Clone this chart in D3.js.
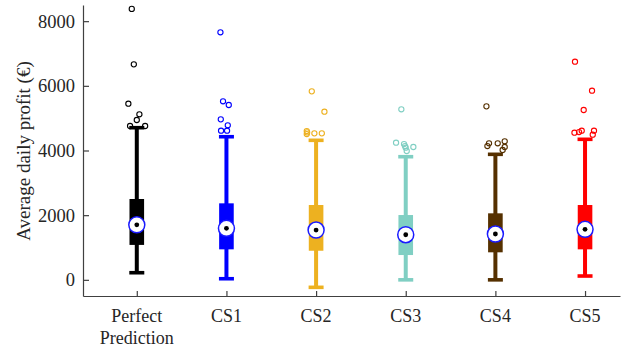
<!DOCTYPE html>
<html>
<head>
<meta charset="utf-8">
<script src="https://cdn.jsdelivr.net/npm/d3@7"></script>
<style>
  html, body { margin: 0; padding: 0; background: #fff; }
  svg { display: block; }
  text { font-family: "Liberation Serif", "Times New Roman", serif; fill: #262626; }
</style>
</head>
<body>
<svg id="chart" width="627" height="351"></svg>
<script>
// Box-plot summaries of average daily profit (EUR) per strategy
const categories = ["Perfect Prediction", "CS1", "CS2", "CS3", "CS4", "CS5"];
const whiskerLow  = [220,   34,  -232,    0,    0,  118];
const q1          = [1080,  943,  900,  767,  851,  943];
const median      = [1700, 1593, 1540, 1395, 1417, 1562];
const q3          = [2500, 2366, 2314, 2004, 2057, 2314];
const whiskerHigh = [4705, 4426, 4315, 3808, 3882, 4346];

// Outliers per strategy: [value, horizontal jitter in category units]
const outliers = [
  [[8380, -0.056], [6665, -0.033], [5447, -0.094], [5119, 0.029], [4943, 0], [4757, -0.075], [4757, 0.093]],
  [[7656, -0.067], [5521, -0.038], [5407, 0.026], [4964, -0.063], [4779, 0.015], [4612, -0.06], [4612, 0.007]],
  [[5830, -0.048], [5200, 0.093], [4602, -0.104], [4560, -0.1], [4509, -0.104], [4530, -0.019], [4530, 0.064]],
  [[5274, -0.049], [4241, -0.108], [4200, -0.019], [4138, -0.008], [4086, 0], [3984, 0.011], [4108, 0.085]],
  [[5366, -0.1], [4222, -0.071], [4138, -0.089], [4222, 0.026], [4284, 0.104], [4108, 0.104], [4015, 0.081]],
  [[6746, -0.112], [5850, 0.078], [5252, -0.015], [4550, -0.118], [4571, -0.067], [4612, -0.037], [4612, 0.1], [4488, 0.086]]
];

const yTicks = [0, 2000, 4000, 6000, 8000];
const colors = ["#000000", "#0000ff", "#edb120", "#80cfc3", "#553000", "#ff0000"];

const serif = "Liberation Serif, Times New Roman, serif";
const svg = d3.select("#chart");

const x = d3.scaleLinear().domain([-0.6, 5.39]).range([83, 620]);
const y = d3.scaleLinear().domain([-500, 8500]).range([296, 5]);

// Axes (ticks point inward)
const yAxis = svg.append("g")
  .attr("transform", "translate(83,0)")
  .call(d3.axisLeft(y).tickValues(yTicks).tickSizeInner(-6).tickSizeOuter(0).tickPadding(8).tickFormat(d3.format("d")))
  .attr("font-family", serif)
  .attr("font-size", 18.5);

const xAxis = svg.append("g")
  .attr("transform", "translate(0,296)")
  .call(d3.axisBottom(x).tickValues(d3.range(categories.length)).tickSizeInner(-5).tickSizeOuter(0).tickFormat(""));

[yAxis, xAxis].forEach(g => {
  g.selectAll("path.domain").attr("stroke", "#404040").attr("stroke-width", 1.2);
  g.selectAll(".tick line").attr("stroke", "#404040").attr("stroke-width", 1.2);
});
yAxis.selectAll(".tick text")
  .attr("dy", null)
  .attr("dominant-baseline", "central")
  .attr("fill", "#262626");

// Category labels, split on spaces into stacked lines
const xl = svg.append("g").attr("font-family", serif);
categories.forEach((c, i) => {
  const t = xl.append("text")
    .attr("x", x(i))
    .attr("y", 321.5)
    .attr("text-anchor", "middle")
    .attr("font-size", 18);
  c.split(" ").forEach((w, k) => {
    t.append("tspan").attr("x", x(i)).attr("dy", k === 0 ? 0 : 22.7).text(w);
  });
});

// Y-axis title
svg.append("text")
  .attr("transform", `translate(23,${151}) rotate(-90)`)
  .attr("text-anchor", "middle")
  .attr("dominant-baseline", "central")
  .attr("font-family", serif)
  .attr("font-size", 19)
  .text("Average daily profit (€)");

// Boxes
const boxW = 14.6, capW = 15, whiskerW = 4;
const g = svg.append("g");
categories.forEach((c, i) => {
  const cx = x(i), col = colors[i];
  // whisker line
  g.append("line")
    .attr("x1", cx).attr("x2", cx)
    .attr("y1", y(whiskerLow[i])).attr("y2", y(whiskerHigh[i]))
    .attr("stroke", col).attr("stroke-width", whiskerW);
  // caps
  [whiskerLow[i], whiskerHigh[i]].forEach(v => {
    g.append("line")
      .attr("x1", cx - capW / 2).attr("x2", cx + capW / 2)
      .attr("y1", y(v)).attr("y2", y(v))
      .attr("stroke", col).attr("stroke-width", 3.6);
  });
  // interquartile box
  g.append("rect")
    .attr("x", cx - boxW / 2).attr("width", boxW)
    .attr("y", y(q3[i])).attr("height", y(q1[i]) - y(q3[i]))
    .attr("fill", col);
  // outliers
  outliers[i].forEach(([v, j]) => {
    g.append("circle")
      .attr("cx", x(i + j)).attr("cy", y(v)).attr("r", 2.6)
      .attr("fill", "none").attr("stroke", col).attr("stroke-width", 1.1);
  });
  // median marker
  g.append("circle")
    .attr("cx", cx).attr("cy", y(median[i])).attr("r", 8)
    .attr("fill", "#fff").attr("stroke", "#1a1aff").attr("stroke-width", 1.5);
  g.append("circle")
    .attr("cx", cx).attr("cy", y(median[i])).attr("r", 2.4)
    .attr("fill", "#000");
});
</script>
</body>
</html>
